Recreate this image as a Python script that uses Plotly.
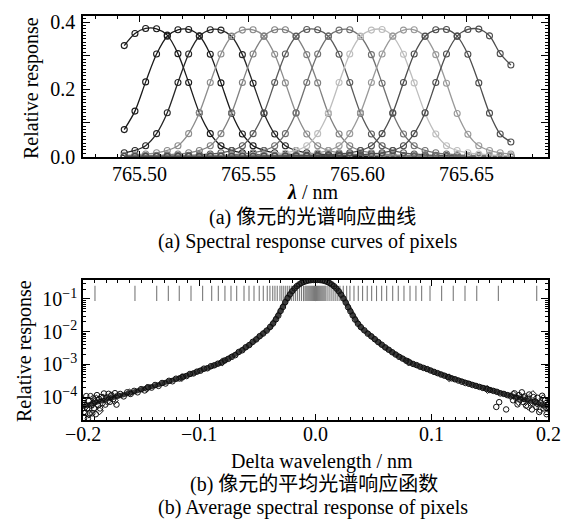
import plotly.graph_objects as go

# ---------------- (a) spectral response curves of individual pixels ----------------
wavelength_nm = [765.4932, 765.4981, 765.5030, 765.5080, 765.5129, 765.5178, 765.5227, 765.5276,
                 765.5326, 765.5375, 765.5424, 765.5473, 765.5522, 765.5572, 765.5621, 765.5670,
                 765.5719, 765.5768, 765.5818, 765.5867, 765.5916, 765.5965, 765.6014, 765.6064,
                 765.6113, 765.6162, 765.6211, 765.6260, 765.6310, 765.6359, 765.6408, 765.6457,
                 765.6506, 765.6556, 765.6605, 765.6654, 765.6703]

resp_p01 = [0.330, 0.366, 0.381, 0.380, 0.361, 0.306, 0.220, 0.130, 0.068, 0.032, 0.018, 0.011,
            0.0075, 0.0050, 0.0035, 0.0026, 0.0020, 0.0015, 0.0012, 0.0010, 0.0009, 0.0008, 0.0007,
            0.0006, 0.00055, 0.0005, 0.0004, 0.00035, 0.0003, 0.00027, 0.00024, 0.0002, 0.00018,
            0.00016, 0.00014, 0.00012, 0.0001]
resp_p02 = [0.080, 0.135, 0.222, 0.305, 0.358, 0.377, 0.378, 0.359, 0.304, 0.219, 0.129, 0.067,
            0.032, 0.018, 0.011, 0.0075, 0.0050, 0.0035, 0.0026, 0.0020, 0.0015, 0.0012, 0.0010,
            0.0009, 0.0008, 0.0007, 0.0006, 0.00055, 0.0005, 0.0004, 0.00035, 0.0003, 0.00027,
            0.00024, 0.0002, 0.00018, 0.00016]
resp_p03 = [0.011, 0.018, 0.032, 0.068, 0.130, 0.220, 0.305, 0.358, 0.377, 0.376, 0.357, 0.303,
            0.218, 0.128, 0.067, 0.032, 0.018, 0.011, 0.0075, 0.0050, 0.0035, 0.0026, 0.0020,
            0.0015, 0.0012, 0.0010, 0.0009, 0.0008, 0.0007, 0.0006, 0.00055, 0.0005, 0.0004,
            0.00035, 0.0003, 0.00027, 0.00024]
resp_p04 = [0.0035, 0.0050, 0.0075, 0.011, 0.018, 0.032, 0.068, 0.130, 0.220, 0.305, 0.358, 0.376,
            0.377, 0.358, 0.304, 0.219, 0.129, 0.067, 0.032, 0.018, 0.011, 0.0075, 0.0050, 0.0035,
            0.0026, 0.0020, 0.0015, 0.0012, 0.0010, 0.0009, 0.0008, 0.0007, 0.0006, 0.00055,
            0.0005, 0.0004, 0.00035]
resp_p05 = [0.0015, 0.0020, 0.0026, 0.0035, 0.0050, 0.0075, 0.011, 0.018, 0.032, 0.068, 0.130,
            0.220, 0.305, 0.358, 0.377, 0.377, 0.357, 0.303, 0.219, 0.128, 0.067, 0.032, 0.018,
            0.011, 0.0075, 0.0050, 0.0035, 0.0026, 0.0020, 0.0015, 0.0012, 0.0010, 0.0009, 0.0008,
            0.0007, 0.0006, 0.00055]
resp_p06 = [0.0009, 0.0010, 0.0012, 0.0015, 0.0020, 0.0026, 0.0035, 0.0050, 0.0075, 0.011, 0.018,
            0.032, 0.068, 0.130, 0.220, 0.305, 0.358, 0.378, 0.377, 0.358, 0.304, 0.220, 0.129,
            0.067, 0.032, 0.018, 0.011, 0.0075, 0.0050, 0.0035, 0.0026, 0.0020, 0.0015, 0.0012,
            0.0010, 0.0009, 0.0008]
resp_p07 = [0.0006, 0.0007, 0.0008, 0.0009, 0.0010, 0.0012, 0.0015, 0.0020, 0.0026, 0.0035, 0.0050,
            0.0075, 0.011, 0.018, 0.032, 0.068, 0.130, 0.220, 0.305, 0.358, 0.376, 0.377, 0.357,
            0.303, 0.218, 0.128, 0.067, 0.032, 0.018, 0.011, 0.0075, 0.0050, 0.0035, 0.0026,
            0.0020, 0.0015, 0.0012]
resp_p08 = [0.0004, 0.0005, 0.00055, 0.0006, 0.0007, 0.0008, 0.0009, 0.0010, 0.0012, 0.0015,
            0.0020, 0.0026, 0.0035, 0.0050, 0.0075, 0.011, 0.018, 0.032, 0.068, 0.130, 0.220,
            0.305, 0.358, 0.376, 0.378, 0.358, 0.304, 0.219, 0.129, 0.067, 0.032, 0.018, 0.011,
            0.0075, 0.0050, 0.0035, 0.0026]
resp_p09 = [0.00027, 0.0003, 0.00035, 0.0004, 0.0005, 0.00055, 0.0006, 0.0007, 0.0008, 0.0009,
            0.0010, 0.0012, 0.0015, 0.0020, 0.0026, 0.0035, 0.0050, 0.0075, 0.011, 0.018, 0.032,
            0.068, 0.130, 0.220, 0.305, 0.358, 0.376, 0.377, 0.357, 0.303, 0.218, 0.128, 0.066,
            0.032, 0.018, 0.011, 0.0075]
resp_p10 = [0.00018, 0.0002, 0.00024, 0.00027, 0.0003, 0.00035, 0.0004, 0.0005, 0.00055, 0.0006,
            0.0007, 0.0008, 0.0009, 0.0010, 0.0012, 0.0015, 0.0020, 0.0026, 0.0035, 0.0050,
            0.0075, 0.011, 0.018, 0.032, 0.068, 0.130, 0.220, 0.305, 0.358, 0.377, 0.378, 0.358,
            0.304, 0.219, 0.129, 0.067, 0.043]
resp_p11 = [0.00012, 0.00014, 0.00016, 0.00018, 0.0002, 0.00024, 0.00027, 0.0003, 0.00035, 0.0004,
            0.0005, 0.00055, 0.0006, 0.0007, 0.0008, 0.0009, 0.0010, 0.0012, 0.0015, 0.0020,
            0.0026, 0.0035, 0.0050, 0.0075, 0.011, 0.018, 0.032, 0.068, 0.130, 0.220, 0.305,
            0.358, 0.378, 0.379, 0.359, 0.306, 0.272]

pixel_curves = [resp_p01, resp_p02, resp_p03, resp_p04, resp_p05, resp_p06,
                resp_p07, resp_p08, resp_p09, resp_p10, resp_p11]
curve_grays = ["#1a1a1a", "#1a1a1a", "#262626", "#8c8c8c", "#808080", "#5a5a5a",
               "#707070", "#bdbdbd", "#999999", "#4d4d4d", "#4d4d4d"]

wl_ticks = [765.50, 765.55, 765.60, 765.65]
wl_ticktext = ["765.50", "765.55", "765.60", "765.65"]

# ---------------- (b) averaged spectral response function ----------------
# mean response vs wavelength offset
mean_offset = [-0.200, -0.190, -0.180, -0.170, -0.160, -0.150, -0.140, -0.130, -0.120, -0.110,
               -0.100, -0.090, -0.080, -0.075, -0.070, -0.065, -0.060, -0.055, -0.050, -0.045,
               -0.040, -0.035, -0.030, -0.025, -0.020, -0.015, -0.010, -0.005, 0.000,
               0.005, 0.010, 0.015, 0.020, 0.025, 0.030, 0.035, 0.040, 0.045, 0.050, 0.055,
               0.060, 0.065, 0.070, 0.075, 0.080, 0.090, 0.100, 0.110, 0.120, 0.130, 0.140,
               0.150, 0.160, 0.170, 0.180, 0.190, 0.200]
mean_resp = [5.01e-5, 6.61e-5, 8.51e-5, 1.07e-4, 1.32e-4, 1.70e-4, 2.14e-4, 2.75e-4, 3.55e-4,
             4.68e-4, 6.31e-4, 8.51e-4, 1.20e-3, 1.51e-3, 1.91e-3, 2.51e-3, 3.31e-3, 4.47e-3,
             6.31e-3, 8.91e-3, 1.26e-2, 2.19e-2, 4.37e-2, 9.33e-2, 0.174, 0.263, 0.331, 0.372,
             0.380,
             0.372, 0.331, 0.263, 0.174, 9.33e-2, 4.37e-2, 2.19e-2, 1.26e-2, 8.91e-3, 6.31e-3,
             4.47e-3, 3.31e-3, 2.51e-3, 1.91e-3, 1.51e-3, 1.20e-3, 8.51e-4, 6.31e-4, 4.68e-4,
             3.55e-4, 2.75e-4, 2.14e-4, 1.70e-4, 1.32e-4, 1.07e-4, 8.51e-5, 6.61e-5, 5.01e-5]

# pooled measurements of all pixels (circles)
pooled_offset = [
    -0.1995, -0.1990, -0.1985, -0.1980, -0.1972, -0.1965, -0.1958, -0.1950, -0.1943, -0.1935,
    -0.1927, -0.1920, -0.1912, -0.1905, -0.1897, -0.1890, -0.1880, -0.1870, -0.1862, -0.1853,
    -0.1843, -0.1832, -0.1820, -0.1808, -0.1795, -0.1780, -0.1768, -0.1755, -0.1740, -0.1725,
    -0.1712, -0.1700,
    -0.1680, -0.1650, -0.1620, -0.1590, -0.1560, -0.1530, -0.1500, -0.1470, -0.1440, -0.1410,
    -0.1380, -0.1350, -0.1320, -0.1290, -0.1260, -0.1230, -0.1200, -0.1170, -0.1140, -0.1110,
    -0.1080, -0.1050, -0.1020, -0.0990, -0.0960, -0.0930, -0.0900, -0.0870, -0.0840, -0.0810,
    -0.0780, -0.0750, -0.0720, -0.0690, -0.0660, -0.0630, -0.0600, -0.0570, -0.0540, -0.0510,
    -0.0480, -0.0450, -0.0420, -0.0390, -0.0365, -0.0340, -0.0320, -0.0300, -0.0280, -0.0260,
    -0.0240, -0.0220, -0.0200, -0.0180, -0.0160, -0.0140, -0.0120, -0.0100, -0.0080, -0.0060,
    -0.0040, -0.0020, 0.0000, 0.0020, 0.0040, 0.0060, 0.0080, 0.0100, 0.0120, 0.0140,
    0.0160, 0.0180, 0.0200, 0.0220, 0.0240, 0.0260, 0.0280, 0.0300, 0.0320, 0.0340,
    0.0365, 0.0390, 0.0420, 0.0450, 0.0480, 0.0510, 0.0540, 0.0570, 0.0600, 0.0630,
    0.0660, 0.0690, 0.0720, 0.0750, 0.0780, 0.0810, 0.0840, 0.0870, 0.0900, 0.0930,
    0.0960, 0.0990, 0.1020, 0.1050, 0.1080, 0.1110, 0.1140, 0.1170, 0.1200, 0.1230,
    0.1260, 0.1290, 0.1320, 0.1350, 0.1380, 0.1410, 0.1440, 0.1470, 0.1500, 0.1530,
    0.1555, 0.1560, 0.1580, 0.1590, 0.1620, 0.1640, 0.1650, 0.1680,
    0.1700, 0.1712, 0.1725, 0.1738, 0.1750, 0.1762, 0.1775, 0.1788, 0.1800, 0.1812,
    0.1825, 0.1838, 0.1850, 0.1862, 0.1875, 0.1888, 0.1900, 0.1912, 0.1925, 0.1938,
    0.1950, 0.1962, 0.1975, 0.1988, 0.1998]
pooled_resp = [
    8.1e-5, 2.3e-5, 5.9e-5, 3.3e-5, 1.07e-4, 4.4e-5, 2.2e-5, 7.6e-5, 3.3e-5, 1.07e-4,
    5.5e-5, 3.2e-5, 9.1e-5, 4.6e-5, 7.4e-5, 3.0e-5, 1.15e-4, 5.6e-5, 8.7e-5, 4.5e-5,
    1.0e-4, 6.6e-5, 1.29e-4, 5.9e-5, 9.8e-5, 1.26e-4, 7.2e-5, 1.15e-4, 8.7e-5, 1.32e-4,
    5.9e-5, 1.12e-4,
    1.25e-4, 1.05e-4, 1.40e-4, 1.25e-4, 1.55e-4, 1.40e-4, 1.75e-4, 1.60e-4, 2.00e-4, 1.95e-4,
    2.35e-4, 2.20e-4, 2.70e-4, 2.60e-4, 3.15e-4, 3.05e-4, 3.65e-4, 3.70e-4, 4.20e-4, 4.40e-4,
    5.10e-4, 5.30e-4, 6.00e-4, 6.40e-4, 7.40e-4, 7.60e-4, 8.80e-4, 9.40e-4, 1.05e-3, 1.13e-3,
    1.32e-3, 1.48e-3, 1.70e-3, 1.92e-3, 2.40e-3, 2.70e-3, 3.35e-3, 3.90e-3, 4.90e-3, 5.80e-3,
    7.30e-3, 8.80e-3, 1.08e-2, 1.40e-2, 1.78e-2, 2.40e-2, 3.10e-2, 4.30e-2, 5.70e-2, 8.00e-2,
    0.107, 0.138, 0.174, 0.210, 0.248, 0.280, 0.310, 0.332, 0.352, 0.366,
    0.376, 0.380, 0.382, 0.381, 0.377, 0.368, 0.354, 0.333, 0.308, 0.278,
    0.245, 0.208, 0.172, 0.136, 0.104, 7.80e-2, 5.60e-2, 4.20e-2, 3.15e-2, 2.35e-2,
    1.75e-2, 1.38e-2, 1.10e-2, 8.70e-3, 7.20e-3, 5.90e-3, 4.80e-3, 4.00e-3, 3.30e-3, 2.80e-3,
    2.35e-3, 2.00e-3, 1.70e-3, 1.50e-3, 1.30e-3, 1.15e-3, 1.03e-3, 9.50e-4, 8.50e-4, 7.80e-4,
    7.20e-4, 6.50e-4, 5.90e-4, 5.40e-4, 4.90e-4, 4.50e-4, 4.10e-4, 3.75e-4, 3.50e-4, 3.20e-4,
    2.95e-4, 2.70e-4, 2.55e-4, 2.35e-4, 2.20e-4, 2.05e-4, 1.90e-4, 1.80e-4, 1.65e-4, 1.55e-4,
    5.0e-5, 1.45e-4, 7.0e-5, 1.30e-4, 1.25e-4, 4.2e-5, 1.15e-4, 1.05e-4,
    8.0e-5, 1.3e-4, 9.5e-5, 6.0e-5, 1.15e-4, 8.5e-5, 1.4e-4, 7.0e-5, 1.05e-4, 5.5e-5,
    9.0e-5, 1.2e-4, 6.5e-5, 4.2e-5, 1.0e-4, 7.5e-5, 5.0e-5, 9.5e-5, 3.5e-5, 6.8e-5,
    1.1e-4, 4.5e-5, 8.0e-5, 3.0e-5, 6.0e-5]

# pooled measurements of all pixels (diamonds)
pooled2_offset = [-0.1976, -0.1948, -0.1918, -0.1885, -0.1858, -0.1826, -0.1790, -0.1760,
                  -0.1730, -0.1600, -0.1450, -0.1150, -0.0800, 0.0800, 0.1150, 0.1480,
                  0.1700, 0.1745, 0.1795, 0.1832, 0.1870, 0.1905, 0.1932, 0.1958, 0.1985]
pooled2_resp = [5.2e-5, 3.0e-5, 6.2e-5, 8.8e-5, 3.8e-5, 9.5e-5, 7.5e-5, 1.05e-4,
                7.8e-5, 1.35e-4, 1.85e-4, 3.95e-4, 1.20e-3, 1.18e-3, 3.90e-4, 1.70e-4,
                1.20e-4, 7.2e-5, 9.2e-5, 5.2e-5, 1.2e-4, 6.5e-5, 4.2e-5, 9.0e-5, 5.0e-5]

# wavelength offsets of the spectral samples (tick row)
sample_offset = [-0.1897, -0.1553, -0.1366, -0.1266, -0.1172, -0.1071, -0.0971, -0.0893,
                 -0.0836, -0.0779, -0.0727, -0.0678, -0.0615, -0.0572, -0.0529, -0.0484,
                 -0.0449, -0.0415, -0.0392, -0.0368, -0.0349, -0.0329, -0.0306,
                 -0.0290, -0.0273, -0.0256, -0.0239, -0.0222, -0.0205, -0.0188, -0.0171,
                 -0.0154, -0.0137, -0.0120, -0.0103,
                 -0.0090, -0.0081, -0.0072, -0.0063, -0.0054, -0.0045, -0.0036, -0.0027,
                 -0.0018, -0.0009, 0.0000, 0.0009, 0.0018, 0.0027, 0.0036, 0.0045, 0.0054,
                 0.0063, 0.0072, 0.0081, 0.0090,
                 0.0107, 0.0124, 0.0141, 0.0158, 0.0175, 0.0192, 0.0210,
                 0.0239, 0.0268, 0.0296, 0.0331, 0.0368, 0.0405, 0.0445, 0.0483, 0.0525,
                 0.0569, 0.0612, 0.0664, 0.0712, 0.0761, 0.0813, 0.0864, 0.0913, 0.0985,
                 0.1085, 0.1185, 0.1286, 0.1387, 0.1573, 0.1903]
sample_level = 0.148

delta_ticks = [-0.2, -0.1, 0.0, 0.1, 0.2]
delta_ticktext = ["\u22120.2", "\u22120.1", "0.0", "0.1", "0.2"]

# ---------------- figure ----------------
SERIF = "Liberation Serif, serif"
SERIF_CJK = "Liberation Serif, Noto Sans CJK SC, serif"
TXT = dict(family=SERIF, size=20, color="black")
TXT_CJK = dict(family=SERIF_CJK, size=20, color="black")

fig = go.Figure()

for resp, gray in zip(pixel_curves, curve_grays):
    fig.add_trace(go.Scatter(
        x=wavelength_nm, y=resp, mode="lines+markers",
        line=dict(color=gray, width=1.3, shape="spline", smoothing=0.8),
        marker=dict(symbol="circle-open", size=6, color=gray, line=dict(width=1.1)),
        xaxis="x", yaxis="y", showlegend=False, hoverinfo="skip"))

fig.add_trace(go.Scatter(
    x=sample_offset, y=[sample_level] * len(sample_offset), mode="markers",
    marker=dict(symbol="line-ns", size=11, line=dict(color="#7a7a7a", width=1.1)),
    xaxis="x2", yaxis="y2", showlegend=False, hoverinfo="skip"))

fig.add_trace(go.Scatter(
    x=mean_offset, y=mean_resp, mode="lines",
    line=dict(color="#3c3c3c", width=5, shape="spline", smoothing=0.6),
    xaxis="x2", yaxis="y2", showlegend=False, hoverinfo="skip"))

fig.add_trace(go.Scatter(
    x=pooled_offset, y=pooled_resp, mode="markers",
    marker=dict(symbol="circle-open", size=5.5, color="#111111", line=dict(width=1)),
    xaxis="x2", yaxis="y2", showlegend=False, hoverinfo="skip"))

fig.add_trace(go.Scatter(
    x=pooled2_offset, y=pooled2_resp, mode="markers",
    marker=dict(symbol="diamond-open", size=6, color="#111111", line=dict(width=1)),
    xaxis="x2", yaxis="y2", showlegend=False, hoverinfo="skip"))

W, H = 563, 529
x_dom = [83 / W, 548 / W]

axis_common = dict(showline=True, linecolor="black", linewidth=1.5, mirror="allticks",
                   ticks="inside", tickcolor="black", tickwidth=1, showgrid=False,
                   zeroline=False, tickfont=TXT, automargin=False)

log_minor = [k * 10.0 ** e for e in range(-5, 0) for k in range(2, 10)]

fig.update_layout(
    width=W, height=H, margin=dict(l=0, r=0, t=0, b=0, autoexpand=False),
    paper_bgcolor="white", plot_bgcolor="white", showlegend=False,
    font=TXT,
    xaxis=dict(axis_common, domain=x_dom, anchor="y", range=[765.4743, 765.6873],
               tickvals=wl_ticks, showticklabels=False, ticklen=6,
               minor=dict(ticks="inside", ticklen=3, dtick=0.01, tick0=765.50,
                          tickcolor="black")),
    yaxis=dict(axis_common, domain=[1 - 157 / H, 1 - 16 / H], anchor="x",
               range=[-0.0015, 0.418], tickvals=[0.0, 0.1, 0.2, 0.3, 0.4],
               ticktext=["0.0", "", "0.2", "", "0.4"], ticklen=7, ticklabelstandoff=2,
               minor=dict(ticks="inside", ticklen=3, dtick=0.01, tick0=0,
                          tickcolor="black")),
    xaxis2=dict(axis_common, domain=x_dom, anchor="y2", range=[-0.2, 0.2],
                tickvals=delta_ticks, showticklabels=False, ticklen=6,
                minor=dict(ticks="inside", ticklen=3, dtick=0.01, tick0=0,
                           tickcolor="black")),
    yaxis2=dict(axis_common, domain=[1 - 420 / H, 1 - 280 / H], anchor="x2", type="log",
                range=[-4.70, -0.42], tickvals=[1e-4, 1e-3, 1e-2, 1e-1],
                ticktext=["10<sup>\u22124</sup>", "10<sup>\u22123</sup>",
                          "10<sup>\u22122</sup>", "10<sup>\u22121</sup>"],
                ticklen=7, ticklabelstandoff=0,
                minor=dict(ticks="inside", ticklen=3, tickvals=log_minor,
                           tickcolor="black")),
)

# x tick labels, placed close under each frame
for v, t in zip(wl_ticks, wl_ticktext):
    fig.add_annotation(text=t, x=v, xref="x", y=1 - 174 / H, yref="paper",
                       showarrow=False, font=TXT, xanchor="center", yanchor="middle")
for v, t in zip(delta_ticks, delta_ticktext):
    fig.add_annotation(text=t, x=v, xref="x2", y=1 - 434 / H, yref="paper",
                       showarrow=False, font=TXT, xanchor="center", yanchor="middle")


def label(text, x_px, y_px, angle=0, font=TXT):
    fig.add_annotation(text=text, x=x_px / W, y=1 - y_px / H, xref="paper", yref="paper",
                       showarrow=False, textangle=angle, font=font,
                       xanchor="center", yanchor="middle")


label("Relative response", 31, 88, -90)
label("Relative response", 24, 351, -90)
label("<b><i>\u03bb</i></b> / nm", 312, 192)
label("(a) 像元的光谱响应曲线", 312, 218, font=TXT_CJK)
label("(a) Spectral response curves of pixels", 308, 241)
label("Delta wavelength / nm", 322, 461)
label("(b) 像元的平均光谱响应函数", 314, 484, font=TXT_CJK)
label("(b) Average spectral response of pixels", 313, 507)

fig.write_html("out.html")
